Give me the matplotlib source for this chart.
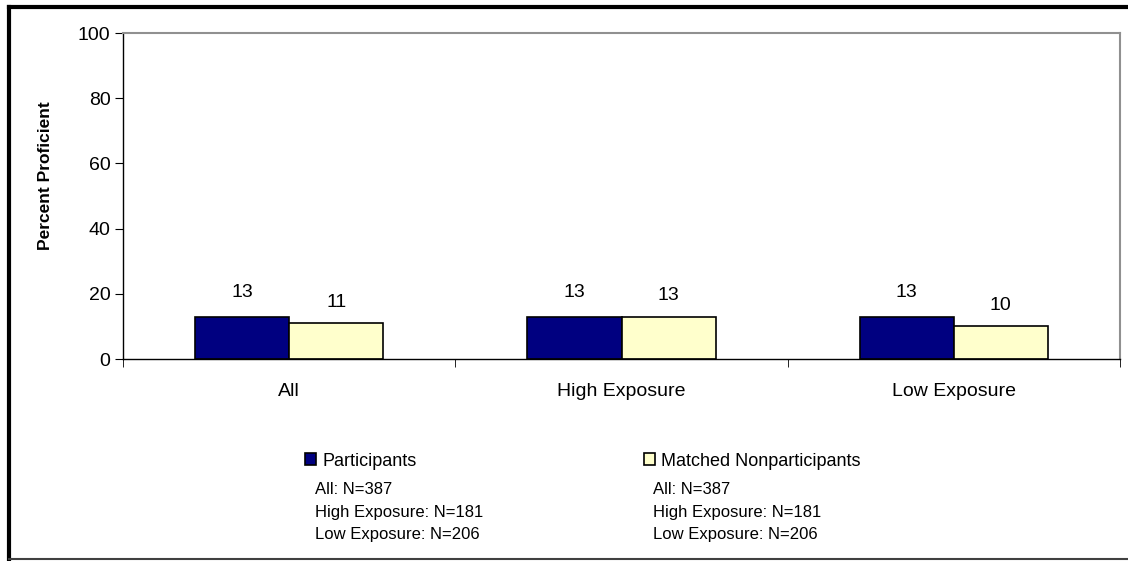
import matplotlib.pyplot as plt
from matplotlib.lines import Line2D
import numpy as np

plt.rcParams['font.family'] = ['Liberation Sans', 'DejaVu Sans']

categories = ["All", "High Exposure", "Low Exposure"]
participants = [13, 13, 13]
nonparticipants = [11, 13, 10]
series_names = ["Participants", "Matched Nonparticipants"]
n_lines = ["All: N=387", "High Exposure: N=181", "Low Exposure: N=206"]

fig = plt.figure(figsize=(11.28, 5.61), dpi=100)
ax = fig.add_axes([123 / 1128, 1 - 359 / 561, 997 / 1128, 326 / 561])

x = np.arange(len(categories))
w = 0.283
b1 = ax.bar(x - w / 2, participants, w, color="#000080", edgecolor="black", linewidth=1.2)
b2 = ax.bar(x + w / 2, nonparticipants, w, color="#FFFFCC", edgecolor="black", linewidth=1.2)

# Excel puts the first series' labels a bit higher
for bars, vals, off in ((b1, participants, 11), (b2, nonparticipants, 9)):
    for r, v in zip(bars, vals):
        ax.annotate(str(v), (r.get_x() + r.get_width() / 2, v), xytext=(0, off),
                    textcoords="offset points", ha="center", va="bottom", fontsize=14)

ax.set_xlim(-0.5, 2.5)
ax.set_ylim(0, 100)
ax.set_yticks([0, 20, 40, 60, 80, 100])
ax.tick_params(axis="y", labelsize=14, length=6, pad=3, direction="out")
ax.set_xticks(x)
ax.set_xticklabels(categories, fontsize=14)
ax.tick_params(axis="x", which="major", length=0, pad=17.5)
ax.set_xticks([-0.5, 0.5, 1.5, 2.5], minor=True)
ax.tick_params(axis="x", which="minor", length=6, direction="out")
ax.set_ylabel("Percent Proficient", fontsize=12.5, fontweight="bold")
ax.yaxis.set_label_coords((53 - 123) / 997, (359 - 176) / 326)

for s in ("top", "right"):
    ax.spines[s].set_color("#909090")
    ax.spines[s].set_linewidth(1.5)
for s in ("left", "bottom"):
    ax.spines[s].set_color("black")
    ax.spines[s].set_linewidth(1.0)

# legends, one per series column
for bar, name, x0 in ((b1, series_names[0], 305), (b2, series_names[1], 644)):
    fig.legend([bar], [name], loc="center left",
               bbox_to_anchor=(x0 / 1128, 1 - 461 / 561), frameon=False,
               fontsize=13, handlelength=0.6, handleheight=0.6, handletextpad=0.35,
               borderpad=0, borderaxespad=0)

for x0 in (315, 653):
    for i, t in enumerate(n_lines):
        fig.text(x0 / 1128, 1 - (490 + i * 22) / 561, t, fontsize=12,
                 ha="left", va="center")

# outer frame
fig.add_artist(Line2D([9 / 1128, 1], [1 - 7 / 561, 1 - 7 / 561], color="black", lw=3))
fig.add_artist(Line2D([9 / 1128, 9 / 1128], [1 - 7 / 561, 1 - 559 / 561], color="black", lw=3))
fig.add_artist(Line2D([9 / 1128, 1], [1 - 559 / 561, 1 - 559 / 561], color="#404040", lw=1.5))

fig.savefig("out.png", dpi=100)
